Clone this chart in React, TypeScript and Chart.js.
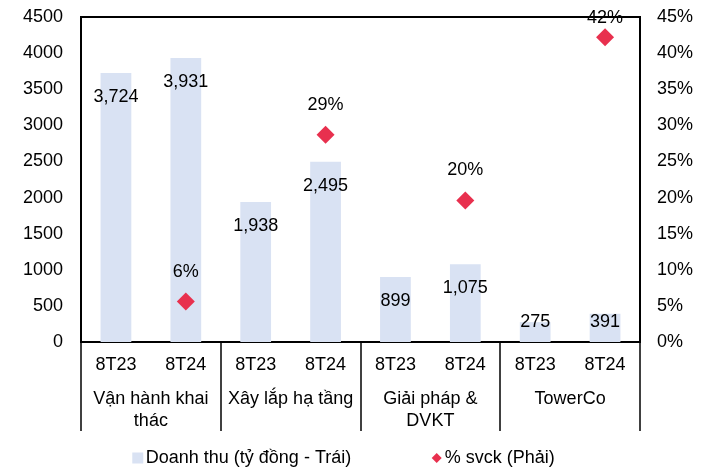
import React, { useEffect, useRef } from 'react';
import { Chart, registerables } from 'chart.js';

Chart.register(...registerables);

const periods = ['8T23', '8T24', '8T23', '8T24', '8T23', '8T24', '8T23', '8T24'];
const segments = [['Vận hành khai', 'thác'], ['Xây lắp hạ tầng'], ['Giải pháp &', 'DVKT'], ['TowerCo']];
const revenue = [3724, 3931, 1938, 2495, 899, 1075, 275, 391];
const growth = [null, 5.6, null, 28.7, null, 19.6, null, 42.2];
const seriesNames = ['Doanh thu (tỷ đồng - Trái)', '% svck (Phải)'];

const BAR_COLOR = '#D9E2F3';
const RED = '#E8304E';
const FAMILY = '"Liberation Sans", Arial, sans-serif';
const FONT = `18px ${FAMILY}`;

const overlay = {
  id: 'overlay',
  beforeDatasetsDraw(chart: any) {
    const { ctx, chartArea: a, scales } = chart;
    ctx.save();
    ctx.strokeStyle = '#000';
    ctx.lineWidth = 2;
    ctx.strokeRect(a.left, a.top, a.right - a.left, a.bottom - a.top);
    // group dividers
    const per = periods.length / segments.length;
    ctx.lineWidth = 1.5;
    for (let g = 0; g <= segments.length; g++) {
      const x = Math.round(scales.x.getPixelForValue(g * per - 0.5));
      ctx.beginPath();
      ctx.moveTo(x, a.bottom);
      ctx.lineTo(x, a.bottom + 89);
      ctx.stroke();
    }
    // group labels
    ctx.font = FONT;
    ctx.fillStyle = '#000';
    ctx.textAlign = 'center';
    ctx.textBaseline = 'middle';
    segments.forEach((lines, g) => {
      const cx = scales.x.getPixelForValue(g * per + (per - 1) / 2);
      lines.forEach((ln, k) => ctx.fillText(ln, cx, a.bottom + 57 + k * 22));
    });
    ctx.restore();
  },
  afterDatasetsDraw(chart: any) {
    const { ctx, width, height, chartArea: a } = chart;
    ctx.save();
    ctx.font = FONT;
    ctx.fillStyle = '#000';
    ctx.textAlign = 'center';
    ctx.textBaseline = 'middle';
    chart.getDatasetMeta(0).data.forEach((el: any, i: number) => {
      const y = Math.min(el.y + 24, el.base - 20);
      ctx.fillText(revenue[i].toLocaleString('en-US'), el.x, y);
    });
    chart.getDatasetMeta(1).data.forEach((el: any, i: number) => {
      const v = growth[i];
      if (v == null) return;
      ctx.fillText(Math.round(v) + '%', el.x, Math.max(el.y - 30, a.top + 1));
    });
    // legend
    const ly = height - 12;
    const box = 11;
    const gapText = 2.5;
    const gapItems = 80;
    ctx.textAlign = 'left';
    const w0 = ctx.measureText(seriesNames[0]).width;
    const w1 = ctx.measureText(seriesNames[1]).width;
    const total = box + gapText + w0 + gapItems + box + gapText + w1;
    let x = (width - total) / 2 - 8;
    ctx.fillStyle = BAR_COLOR;
    ctx.fillRect(x, ly - box / 2, box, box);
    ctx.fillStyle = '#000';
    ctx.fillText(seriesNames[0], x + box + gapText, ly);
    x += box + gapText + w0 + gapItems;
    ctx.fillStyle = RED;
    const cx = x + box / 2;
    ctx.beginPath();
    ctx.moveTo(cx, ly - 5);
    ctx.lineTo(cx + 5, ly);
    ctx.lineTo(cx, ly + 5);
    ctx.lineTo(cx - 5, ly);
    ctx.closePath();
    ctx.fill();
    ctx.fillStyle = '#000';
    ctx.fillText(seriesNames[1], x + box + gapText, ly);
    ctx.restore();
  },
};

const fitY = (w: number) => (s: any) => {
  s.width = w;
  s.paddingTop = 0;
  s.paddingBottom = 0;
};

export default function App() {
  const ref = useRef<HTMLCanvasElement>(null);
  useEffect(() => {
    if (!ref.current) return;
    const chart = new Chart(ref.current, {
      type: 'bar',
      data: {
        labels: periods,
        datasets: [
          {
            type: 'bar',
            label: seriesNames[0],
            data: revenue,
            backgroundColor: BAR_COLOR,
            borderWidth: 0,
            barPercentage: 0.44,
            categoryPercentage: 1,
            yAxisID: 'y',
            order: 2,
          },
          {
            type: 'line',
            label: seriesNames[1],
            data: growth as any,
            showLine: false,
            pointStyle: 'rectRot',
            pointRadius: 9,
            pointHoverRadius: 9,
            pointBackgroundColor: RED,
            pointBorderWidth: 0,
            borderWidth: 0,
            backgroundColor: RED,
            borderColor: RED,
            yAxisID: 'y1',
            order: 1,
          },
        ],
      },
      options: {
        responsive: false,
        animation: false,
        layout: { padding: { top: 17, left: 0, right: 0, bottom: 0 } },
        plugins: {
          legend: { display: false },
          tooltip: { enabled: false },
        },
        scales: {
          x: {
            offset: true,
            grid: { display: false, drawTicks: false },
            border: { display: false },
            ticks: { color: '#000', font: { family: FAMILY, size: 18 }, padding: 12, maxRotation: 0 },
            afterFit: (s: any) => {
              s.height = 128;
              s.paddingLeft = 0;
              s.paddingRight = 0;
            },
          },
          y: {
            position: 'left',
            min: 0,
            max: 4500,
            grid: { display: false, drawTicks: false },
            border: { display: false },
            ticks: {
              stepSize: 500,
              color: '#000',
              font: { family: FAMILY, size: 18 },
              padding: 18,
              callback: (v: any) => String(v),
            },
            afterFit: fitY(81),
          },
          y1: {
            position: 'right',
            min: 0,
            max: 45,
            grid: { display: false, drawTicks: false },
            border: { display: false },
            ticks: {
              stepSize: 5,
              color: '#000',
              font: { family: FAMILY, size: 18 },
              padding: 17,
              callback: (v: any) => v + '%',
            },
            afterFit: fitY(63),
          },
        },
      },
      plugins: [overlay],
    });
    return () => chart.destroy();
  }, []);
  return (
    <div style={{ position: 'fixed', left: 0, top: 0, width: 703, height: 470, background: '#fff' }}>
      <canvas ref={ref} width={703} height={470} />
    </div>
  );
}
